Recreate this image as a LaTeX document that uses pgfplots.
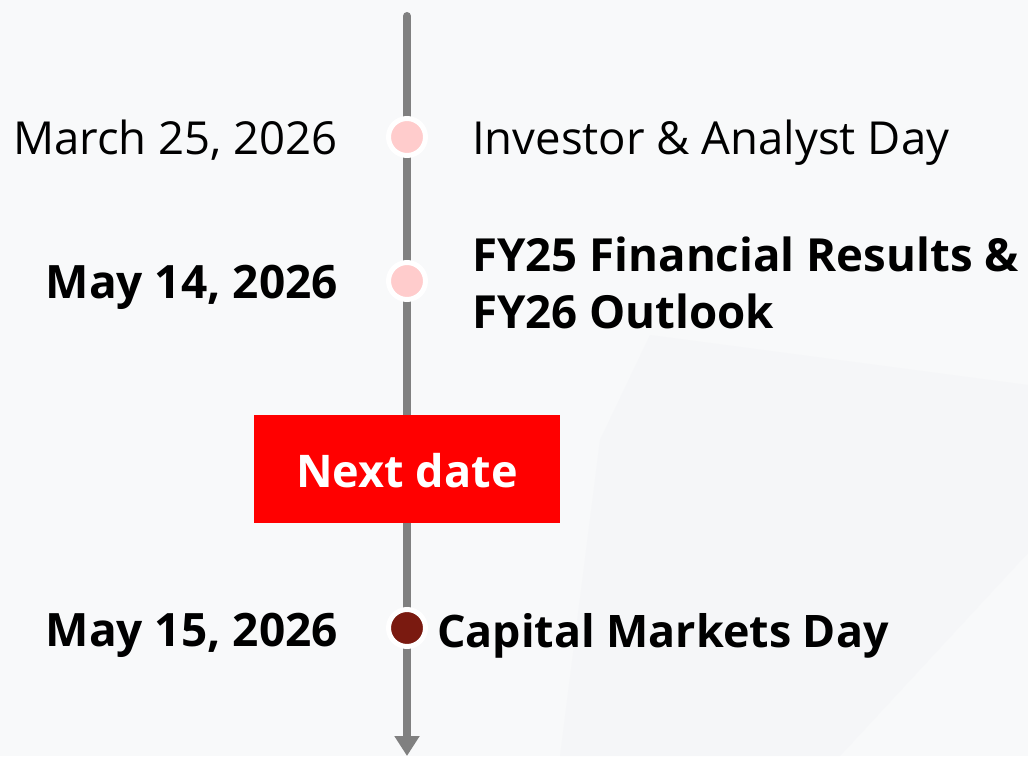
\documentclass[border=0pt]{standalone}
\usepackage{pgfplots}
\pgfplotsset{compat=1.18}
\usepackage{fontspec}
\setmainfont{Open Sans}
\usetikzlibrary{arrows.meta}
\definecolor{bg}{HTML}{F8F9FA}
\definecolor{bgdark}{HTML}{F5F6F8}
\definecolor{linegray}{HTML}{808080}
\definecolor{pinkdot}{HTML}{FFCCCC}
\definecolor{darkdot}{HTML}{7A1A10}
\definecolor{boxred}{HTML}{FF0000}
\begin{document}
\begin{tikzpicture}
\begin{axis}[width=1028pt,height=756pt,scale only axis,
  xmin=0,xmax=1028,ymin=0,ymax=756,y dir=reverse,
  hide axis,clip=false]
\fill[bg] (axis cs:0,0) rectangle (axis cs:1028,756);
\fill[bgdark] (axis cs:650,335) -- (axis cs:1028,385) -- (axis cs:1028,553) -- (axis cs:840,756) -- (axis cs:560,756) -- (axis cs:600,440) -- cycle;
% timeline
\addplot[draw=linegray, line width=8pt, line cap=round, -{Triangle[width=24pt,length=20pt]}] coordinates {(407,16) (407,756)};
% red box
\node[fill=boxred, minimum width=306pt, minimum height=108pt, inner sep=0pt] at (axis cs:407,469) {};
\node[anchor=base, text=white, inner sep=0pt, font=\fontsize{45}{54}\selectfont\bfseries] at (axis cs:407,487) {Next date};
% dots
\addplot[only marks, mark=*, mark size=18.5pt, mark options={fill=pinkdot, draw=white, line width=5pt}] coordinates {(407,137) (407,281)};
\addplot[only marks, mark=*, mark size=18.5pt, mark options={fill=darkdot, draw=white, line width=5pt}] coordinates {(407,628)};
% labels
\tikzset{lbl/.style={inner sep=0pt, font=\fontsize{45.5}{56}\selectfont},
         blbl/.style={inner sep=0pt, font=\fontsize{46}{56}\selectfont\bfseries}}
\node[lbl, anchor=base east] at (axis cs:338,154) {March 25, 2026};
\node[lbl, anchor=base west] at (axis cs:472,154) {Investor \& Analyst Day};
\node[blbl, anchor=base east] at (axis cs:338,298) {May 14, 2026};
\node[blbl, anchor=base west, font=\fontsize{45.6}{56}\selectfont\bfseries] at (axis cs:472,271) {FY25 Financial Results \&};
\node[blbl, anchor=base west, font=\fontsize{45.6}{56}\selectfont\bfseries] at (axis cs:472,328) {FY26 Outlook};
\node[blbl, anchor=base east] at (axis cs:338,646) {May 15, 2026};
\node[blbl, anchor=base west, font=\fontsize{44.8}{56}\selectfont\bfseries] at (axis cs:437,647) {Capital Markets Day};
\end{axis}
\end{tikzpicture}
\end{document}
